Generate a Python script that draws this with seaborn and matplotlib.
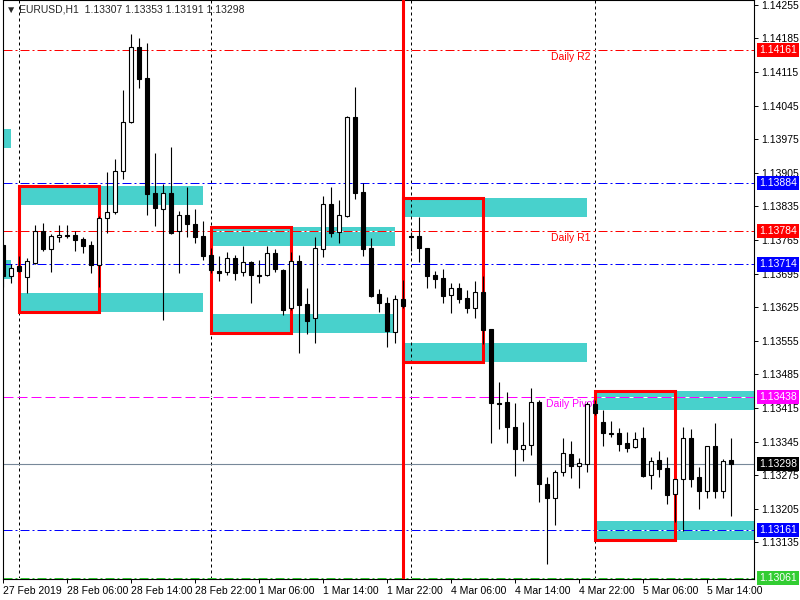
import matplotlib
matplotlib.use("Agg")
import matplotlib.pyplot as plt
from matplotlib.patches import Rectangle
import seaborn as sns

# EURUSD H1 candles, bar 0 = 27 Feb 22:00 ... bar 91 = 5 Mar 17:00
opens = [1.13755, 1.13690, 1.13711, 1.13688, 1.13717, 1.13784, 1.13746, 1.13771, 1.13775, 1.13775,
         1.13767, 1.13755, 1.13713, 1.13811, 1.13823, 1.13909, 1.14011, 1.14167, 1.14103, 1.13863,
         1.13830, 1.13863, 1.13784, 1.13817, 1.13798, 1.13773, 1.13734, 1.13700, 1.13698, 1.13728,
         1.13698, 1.13719, 1.13692, 1.13692, 1.13738, 1.13703, 1.13623, 1.13721, 1.13632, 1.13603,
         1.13746, 1.13840, 1.13782, 1.13815, 1.14021, 1.13865, 1.13748, 1.13653, 1.13634, 1.13573,
         1.13642, 1.13773, 1.13773, 1.13748, 1.13692, 1.13686, 1.13650, 1.13665, 1.13644, 1.13623,
         1.13657, 1.13580, 1.13425, 1.13428, 1.13375, 1.13330, 1.13338, 1.13428, 1.13257, 1.13228,
         1.13282, 1.13319, 1.13294, 1.13298, 1.13423, 1.13386, 1.13363, 1.13363, 1.13342, 1.13334,
         1.13353, 1.13275, 1.13307, 1.13290, 1.13236, 1.13267, 1.13353, 1.13271, 1.13242, 1.13336,
         1.13242, 1.13307]
highs = [1.13757, 1.13715, 1.13732, 1.13728, 1.13796, 1.13800, 1.13778, 1.13796, 1.13796, 1.13784,
         1.13771, 1.13763, 1.13815, 1.13907, 1.13934, 1.14078, 1.14194, 1.14186, 1.14175, 1.13946,
         1.13882, 1.13959, 1.13825, 1.13875, 1.13830, 1.13805, 1.13748, 1.13732, 1.13740, 1.13734,
         1.13753, 1.13721, 1.13723, 1.13753, 1.13746, 1.13704, 1.13740, 1.13734, 1.13665, 1.13771,
         1.13857, 1.13875, 1.13848, 1.14023, 1.14084, 1.13884, 1.13769, 1.13663, 1.13646, 1.13650,
         1.13682, 1.13782, 1.13813, 1.13748, 1.13700, 1.13705, 1.13675, 1.13675, 1.13661, 1.13680,
         1.13690, 1.13580, 1.13469, 1.13448, 1.13425, 1.13386, 1.13457, 1.13432, 1.13271, 1.13286,
         1.13353, 1.13346, 1.13311, 1.13428, 1.13432, 1.13411, 1.13388, 1.13373, 1.13365, 1.13365,
         1.13375, 1.13313, 1.13325, 1.13313, 1.13267, 1.13375, 1.13371, 1.13292, 1.13336, 1.13384,
         1.13309, 1.13353]
lows = [1.13667, 1.13675, 1.13698, 1.13655, 1.13715, 1.13742, 1.13698, 1.13761, 1.13769, 1.13742,
        1.13738, 1.13696, 1.13667, 1.13780, 1.13819, 1.13892, 1.14009, 1.14082, 1.13817, 1.13794,
        1.13598, 1.13778, 1.13696, 1.13771, 1.13759, 1.13723, 1.13696, 1.13680, 1.13692, 1.13682,
        1.13690, 1.13634, 1.13675, 1.13690, 1.13698, 1.13609, 1.13619, 1.13530, 1.13569, 1.13550,
        1.13730, 1.13771, 1.13759, 1.13813, 1.13850, 1.13732, 1.13646, 1.13615, 1.13542, 1.13550,
        1.13623, 1.13742, 1.13719, 1.13665, 1.13665, 1.13634, 1.13613, 1.13634, 1.13613, 1.13603,
        1.13548, 1.13342, 1.13371, 1.13342, 1.13273, 1.13305, 1.13317, 1.13219, 1.13090, 1.13171,
        1.13273, 1.13269, 1.13248, 1.13282, 1.13400, 1.13336, 1.13355, 1.13325, 1.13323, 1.13332,
        1.13271, 1.13246, 1.13271, 1.13215, 1.13178, 1.13159, 1.13250, 1.13205, 1.13228, 1.13228,
        1.13228, 1.13191]
closes = [1.13690, 1.13707, 1.13700, 1.13721, 1.13784, 1.13746, 1.13773, 1.13775, 1.13774, 1.13765,
          1.13753, 1.13713, 1.13811, 1.13823, 1.13909, 1.14011, 1.14167, 1.14100, 1.13861, 1.13832,
          1.13863, 1.13780, 1.13817, 1.13798, 1.13771, 1.13732, 1.13703, 1.13696, 1.13728, 1.13696,
          1.13719, 1.13692, 1.13691, 1.13738, 1.13705, 1.13619, 1.13721, 1.13630, 1.13596, 1.13748,
          1.13840, 1.13780, 1.13817, 1.14021, 1.13863, 1.13746, 1.13648, 1.13634, 1.13575, 1.13642,
          1.13628, 1.13771, 1.13748, 1.13690, 1.13684, 1.13648, 1.13665, 1.13642, 1.13623, 1.13657,
          1.13578, 1.13425, 1.13423, 1.13375, 1.13330, 1.13338, 1.13428, 1.13257, 1.13228, 1.13282,
          1.13321, 1.13294, 1.13300, 1.13423, 1.13405, 1.13363, 1.13361, 1.13340, 1.13332, 1.13350,
          1.13273, 1.13305, 1.13288, 1.13234, 1.13267, 1.13353, 1.13267, 1.13242, 1.13336, 1.13242,
          1.13305, 1.13298]

time_ticks = [0, 8, 16, 24, 32, 40, 48, 56, 64, 72, 80, 88]
time_labels = ["27 Feb 2019", "28 Feb 06:00", "28 Feb 14:00", "28 Feb 22:00", "1 Mar 06:00",
               "1 Mar 14:00", "1 Mar 22:00", "4 Mar 06:00", "4 Mar 14:00", "4 Mar 22:00",
               "5 Mar 06:00", "5 Mar 14:00"]
price_ticks = [1.14255, 1.14185, 1.14115, 1.14045, 1.13975, 1.13905, 1.13835, 1.13765, 1.13695,
               1.13625, 1.13555, 1.13485, 1.13415, 1.13345, 1.13275, 1.13205, 1.13135]

# daily supply / demand zones (start bar, 23 bars long)
zone_start = [-22, 2, 26, 50, 74]
upper_top = [1.13996, 1.13877, 1.13792, 1.13853, 1.13450]
upper_bot = [1.13957, 1.13838, 1.13753, 1.13813, 1.13411]
lower_top = [1.13723, 1.13655, 1.13611, 1.13550, 1.13180]
lower_bot = [1.13684, 1.13615, 1.13571, 1.13511, 1.13140]

# pivot levels
level_prices = [1.14161, 1.13884, 1.13784, 1.13714, 1.13438, 1.13161, 1.13061]
level_colors = ["#FF0000", "#0000FF", "#FF0000", "#0000FF", "#FF00FF", "#0000FF", "#32CD32"]
level_names = {1.14161: "Daily R2", 1.13784: "Daily R1", 1.13438: "Daily Pivot"}
bid = 1.13298

separators = [2, 26, 51, 74]
red_vline = 50

sns.set_theme(style="white")
plt.rcParams["font.family"] = ["Liberation Sans", "DejaVu Sans"]

fig = plt.figure(figsize=(8, 6), dpi=100)
ax = fig.add_axes([2.5 / 800, 21 / 600, 751.5 / 800, 579 / 600])
ax.set_xlim(-0.0625, 93.875)
ax.set_ylim(1.130588, 1.14265)

# zones
for i, s in enumerate(zone_start):
    for top, bot in [(upper_top[i], upper_bot[i]), (lower_top[i], lower_bot[i])]:
        ax.add_patch(Rectangle((s, bot), 23, top - bot, fc="#48D1CC", ec="none", zorder=1))

# day separators
for s in separators:
    ax.axvline(s, color="black", lw=0.72, ls=(0, (3, 3)), zorder=1.5)

# pivot level lines
for p, c in zip(level_prices, level_colors):
    ls = (0, (10, 4)) if c == "#FF00FF" else (0, (9, 3, 2, 3))
    ax.axhline(p, color="white", lw=0.72, zorder=2)
    ax.axhline(p, color=c, lw=0.72, ls=ls, zorder=2.1)
    if p in level_names:
        xpos = 67.9 if "Pivot" in level_names[p] else 68.5
        ax.text(xpos, p - 0.00015, level_names[p], color=c, fontsize=7.5,
                va="center", ha="left", zorder=2.2)

ax.axhline(bid, color="#778899", lw=0.8, zorder=2.1)

# red boxes around first 10 bars of each day
for i, s in enumerate(zone_start[1:], start=1):
    ax.add_patch(Rectangle((s, lower_bot[i]), 10, upper_top[i] - lower_bot[i],
                           fill=False, ec="#FF0000", lw=2.2, zorder=2.5))

ax.axvline(red_vline, color="#FF0000", lw=2.2, zorder=2.6)

# candles
x = list(range(len(opens)))
ax.vlines(x, lows, highs, color="black", lw=0.8, zorder=3)
for i in x:
    o, c = opens[i], closes[i]
    fc = "white" if c > o else "black"
    ax.bar(i, abs(c - o), bottom=min(o, c), width=0.6, color=fc,
           edgecolor="black", linewidth=0.8, zorder=4)

# axes styling
for side in ["left", "right", "bottom", "top"]:
    ax.spines[side].set_color("black")
    ax.spines[side].set_linewidth(0.8)

ax.yaxis.tick_right()
ax.set_yticks(price_ticks)
ax.set_yticklabels([f"{v:.5f}" for v in price_ticks])
ax.tick_params(axis="y", right=True, left=False, direction="out", length=3, width=0.7,
               pad=2.5, labelsize=7.5, colors="black")
ax.set_xticks(time_ticks)
ax.set_xticklabels(time_labels)
ax.tick_params(axis="x", bottom=True, direction="out", length=3, width=0.7,
               pad=2, labelsize=7.5, colors="black")
for lbl in ax.get_xticklabels():
    lbl.set_ha("left")

# price tags on the right
for p, c in zip(level_prices + [bid], level_colors + ["black"]):
    ax.annotate(f"{p:.5f}", xy=(1, p), xycoords=("axes fraction", "data"),
                xytext=(5, 0), textcoords="offset pixels", va="center", ha="left",
                color="white", fontsize=7.5, annotation_clip=False, zorder=10,
                bbox=dict(boxstyle="square,pad=0.2", fc=c, ec="none"))

ax.text(0.004, 0.993, "\u25bc EURUSD,H1  1.13307 1.13353 1.13191 1.13298",
        transform=ax.transAxes, va="top", ha="left", fontsize=7.5, zorder=10,
        family=["Liberation Sans", "DejaVu Sans"])

fig.savefig("out.png", dpi=100)
